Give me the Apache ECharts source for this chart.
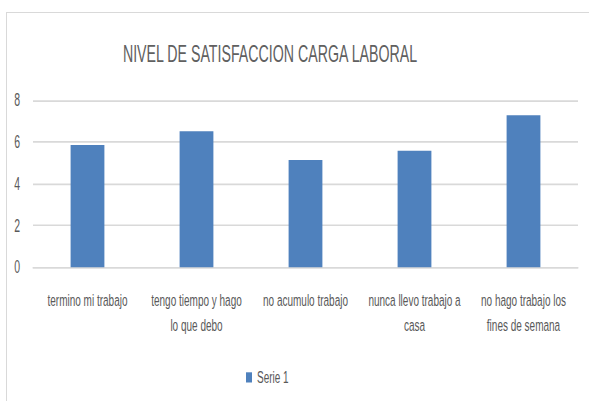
<!DOCTYPE html>
<html>
<head>
<meta charset="utf-8">
<script src="https://cdn.jsdelivr.net/npm/echarts@6/dist/echarts.min.js"></script>
<style>
  html, body { margin: 0; padding: 0; background: #fff; overflow: hidden; }
  body { position: relative; width: 589px; height: 401px; }
  /* marco del grafico (como en la imagen original) */
  #frame { position: absolute; left: 6px; top: 12px; width: 700px; height: 500px; border: 1px solid #d9d9d9; }
  /* la imagen original esta estirada en vertical: se dibuja a menor altura y se escala */
  #chart { position: absolute; left: 0; top: 0; width: 589px; height: 236px;
           transform: scaleY(1.7); transform-origin: 0 0; }
</style>
</head>
<body>
<div id="frame"></div>
<div id="chart"></div>
<script>
// nivel de satisfaccion - carga laboral
const categories = [
    'termino mi trabajo',
    'tengo tiempo y hago\nlo que debo',
    'no acumulo trabajo',
    'nunca llevo trabajo a\ncasa',
    'no hago trabajo los\nfines de semana'
];
const serie1 = [5.85, 6.5, 5.13, 5.57, 7.27];
const yTicks = [0, 2, 4, 6, 8];

const FONT = '"Liberation Sans", Arial, sans-serif';
const chart = echarts.init(document.getElementById('chart'), null, { renderer: 'svg' });

chart.setOption({
    animation: false,
    title: {
        text: 'NIVEL DE SATISFACCION CARGA LABORAL',
        left: 265,
        top: 19.5,
        textAlign: 'center',
        textStyle: { fontFamily: FONT, fontSize: 14.2, fontWeight: 'normal', color: '#606060' }
    },
    grid: { left: 33, right: 11, top: 58.8, bottom: 78.8 },
    legend: {
        data: ['Serie 1'],
        left: 241,
        top: 212,
        itemWidth: 6,
        itemHeight: 6,
        itemGap: 5,
        icon: 'rect',
        textStyle: { fontFamily: FONT, fontSize: 10, color: '#595959' }
    },
    xAxis: {
        type: 'category',
        data: categories,
        axisLine: { lineStyle: { color: '#d9d9d9' } },
        axisTick: { show: false },
        axisLabel: {
            interval: 0,
            margin: 12,
            fontFamily: FONT,
            fontSize: 10,
            lineHeight: 14.7,
            color: '#595959'
        }
    },
    yAxis: {
        type: 'value',
        min: yTicks[0],
        max: yTicks[yTicks.length - 1],
        interval: 2,
        axisLine: { show: false },
        axisTick: { show: false },
        axisLabel: { margin: 13, fontFamily: FONT, fontSize: 10.5, color: '#595959' },
        splitLine: { lineStyle: { color: '#d9d9d9', width: 1 } }
    },
    series: [{
        name: 'Serie 1',
        type: 'bar',
        data: serie1,
        barWidth: '31%',
        itemStyle: { color: '#4f81bd' }
    }]
});
</script>
</body>
</html>
